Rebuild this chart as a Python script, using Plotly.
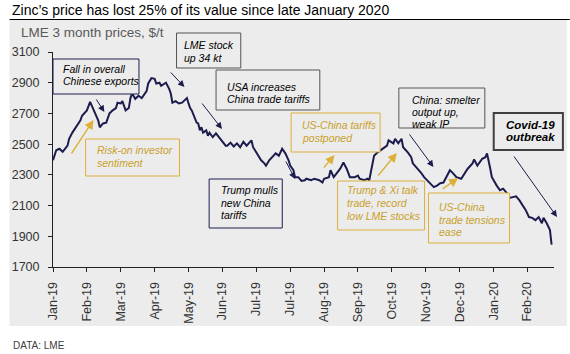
import plotly.graph_objects as go

# ---- data (trading-day index from 2 Jan 2019, LME 3M zinc, $/t) ----
days = [0, 2, 4, 6, 9, 10, 12, 15, 17, 18, 21, 23, 26, 28, 29, 31, 33, 35, 37, 39,
        40, 42, 43, 45, 47, 48, 49, 51, 53, 55, 58, 59, 61, 63, 64, 66, 67, 70, 72, 73,
        74, 76, 78, 80, 81, 83, 84, 85, 86, 88, 89, 90, 91, 92, 93, 95, 96, 97, 99, 101,
        103, 105, 107, 108, 110, 112, 114, 116, 118, 120, 122, 123, 124, 126, 127, 129, 131, 132, 134, 136,
        138, 140, 142, 144, 146, 147, 149, 150, 152, 154, 156, 157, 160, 162, 165, 167, 168, 171, 172, 174,
        176, 178, 180, 181, 182, 184, 187, 189, 190, 193, 195, 196, 197, 199, 201, 203, 205, 207, 208, 211,
        212, 214, 216, 217, 220, 222, 223, 226, 228, 230, 232, 234, 236, 238, 240, 242, 244, 246, 248, 250,
        253, 255, 257, 260, 261, 263, 265, 266, 268, 269, 271, 272, 275, 277, 279, 281, 283, 285, 287, 289,
        291, 293, 295, 297, 299, 301, 303, 304, 306, 308, 309]
price = [2395, 2460, 2470, 2450, 2490, 2535, 2575, 2620, 2655, 2685, 2720, 2775, 2700, 2655, 2610, 2635, 2640, 2700, 2720, 2735,
         2770, 2765, 2780, 2720, 2735, 2800, 2830, 2795, 2815, 2800, 2845, 2895, 2930, 2925, 2895, 2900, 2880, 2900, 2860, 2830,
         2770, 2780, 2765, 2770, 2780, 2800, 2765, 2735, 2720, 2670, 2640, 2635, 2590, 2610, 2575, 2590, 2555, 2575, 2545, 2570,
         2545, 2515, 2490, 2490, 2510, 2485, 2505, 2480, 2515, 2490, 2510, 2525, 2480, 2445, 2425, 2395, 2375, 2360, 2395, 2415,
         2440, 2425, 2470, 2440, 2395, 2360, 2330, 2285, 2285, 2260, 2265, 2275, 2265, 2275, 2265, 2250, 2275, 2285, 2330, 2285,
         2315, 2340, 2380, 2360, 2340, 2285, 2285, 2295, 2275, 2265, 2275, 2265, 2315, 2425, 2445, 2460, 2480, 2490, 2525, 2505,
         2535, 2505, 2535, 2480, 2445, 2415, 2375, 2340, 2315, 2285, 2265, 2245, 2220, 2230, 2245, 2250, 2295, 2330, 2310, 2285,
         2275, 2310, 2340, 2375, 2400, 2360, 2395, 2405, 2415, 2440, 2340, 2285, 2230, 2200, 2210, 2185, 2150, 2155, 2160, 2135,
         2100, 2070, 2025, 2020, 2005, 2025, 1985, 2020, 1985, 1940, 1845]
tick_days = [0, 21, 42, 63, 84, 105, 126, 147, 168, 189, 210, 231, 252, 273, 294]
tick_labels = ["Jan-19", "Feb-19", "Mar-19", "Apr-19", "May-19", "Jun-19", "Jul-19", "Jul-19",
               "Aug-19", "Sep-19", "Oct-19", "Nov-19", "Dec-19", "Jan-20", "Feb-20"]
y_ticks = [1700, 1900, 2100, 2300, 2500, 2700, 2900, 3100]

# ---- styling ----
W, H = 570, 354
L, R, T, B = 47, 16, 52, 87
PW, PH = W - L - R, H - T - B
NAVY = "#1c1c4e"
GOLD_TXT = "#c9a02a"
GOLD_BOR = "#dcb03a"
GREYB = "#555555"
PANEL = "#ececec"
FONT = "Liberation Sans, Arial, sans-serif"
BOX_FS = 10.5


def px(x):
    return (x - L) / PW


def py(y):
    return (H - B - y) / PH


fig = go.Figure()
fig.add_trace(go.Scatter(x=days, y=price, mode="lines",
                         line=dict(color=NAVY, width=2), hoverinfo="skip"))

fig.update_layout(
    width=W, height=H, margin=dict(l=L, r=R, t=T, b=B, pad=0),
    paper_bgcolor="white", plot_bgcolor="rgba(0,0,0,0)",
    showlegend=False, font=dict(family=FONT, color="#333333"),
)
fig.update_xaxes(range=[0, 310.5], tickvals=tick_days, ticktext=tick_labels, tickangle=-90,
                 showgrid=False, zeroline=False, showline=True, linecolor="#222222", linewidth=1,
                 ticks="outside", ticklen=4, tickcolor="#222222", ticklabelstandoff=5,
                 tickfont=dict(size=12.5, color="#333333", family=FONT))
fig.update_yaxes(range=[1700, 3100], tickvals=y_ticks, showgrid=False, zeroline=False,
                 showline=True, linecolor="#222222", linewidth=1,
                 ticks="outside", ticklen=4, tickcolor="#222222", ticklabelstandoff=6,
                 tickfont=dict(size=12.5, color="#333333", family=FONT))

# panel background and title rule
fig.add_shape(type="rect", xref="paper", yref="paper", x0=px(3), x1=px(567), y0=py(326), y1=py(20),
              fillcolor=PANEL, line=dict(width=0), layer="below")
fig.add_shape(type="line", xref="paper", yref="paper", x0=px(3), x1=px(570), y0=py(19.5), y1=py(19.5),
              line=dict(color="black", width=1))

fig.add_annotation(xref="paper", yref="paper", x=px(3), y=py(10), xanchor="left", yanchor="middle",
                   text="Zinc’s price has lost 25% of its value since late January 2020", showarrow=False,
                   font=dict(size=14, color="black", family=FONT))
fig.add_annotation(xref="paper", yref="paper", x=px(13), y=py(33), xanchor="left", yanchor="middle",
                   text="LME 3 month prices, $/t", showarrow=False,
                   font=dict(size=13.5, color="#595959", family=FONT))
fig.add_annotation(xref="paper", yref="paper", x=px(4), y=py(345), xanchor="left", yanchor="middle",
                   text="DATA: LME", showarrow=False, font=dict(size=10, color="#404040", family=FONT))


def box(x0, y0, x1, y1, lines, tx, ty, step, fc, bc, bw=1, size=BOX_FS, bold=False):
    fig.add_shape(type="rect", xref="paper", yref="paper", x0=px(x0), x1=px(x1), y0=py(y1), y1=py(y0),
                  fillcolor=PANEL, line=dict(color=bc, width=bw), layer="above")
    for i, s in enumerate(lines):
        t = "<i>" + s + "</i>"
        if bold:
            t = "<b>" + t + "</b>"
        fig.add_annotation(xref="paper", yref="paper", x=px(tx), y=py(ty + i * step),
                           xanchor="left", yanchor="middle", text=t, showarrow=False,
                           font=dict(size=size, color=fc, family=FONT))


def arrow(x0, y0, x1, y1, color, w=1):
    fig.add_annotation(xref="paper", yref="paper", x=px(x1), y=py(y1), ax=x0 - x1, ay=y0 - y1,
                       axref="pixel", ayref="pixel", text="", showarrow=True, arrowhead=2,
                       arrowsize=1.3, arrowwidth=w, arrowcolor=color, standoff=0, startstandoff=0)


box(47, 59, 134, 94, ["Fall in overall", "Chinese exports"], 55, 68.5, 12, "black", NAVY)
box(172, 33, 237, 68, ["LME stock", "up 34 kt"], 178, 45, 13, "black", GREYB)
box(212, 70, 317, 110, ["USA increases", "China trade tariffs"], 221, 86.5, 12.5, "black", GREYB)
box(80, 139, 175, 176, ["Risk-on investor", "sentiment"], 90, 150, 12.5, GOLD_TXT, GOLD_BOR)
box(205, 179, 279, 228, ["Trump mulls", "new China", "tariffs"], 215, 190, 12.5, "black", NAVY)
box(288, 113, 378, 152, ["US-China tariffs", "postponed"], 297, 125, 12.5, GOLD_TXT, GOLD_BOR)
box(335, 181, 423, 230, ["Trump &amp; Xi talk", "trade, record", "low LME stocks"], 343, 190, 13,
    GOLD_TXT, GOLD_BOR)
box(397, 88, 484, 128, ["China: smelter", "output up,", "weak IP"], 408, 100, 12, "black", GREYB)
box(427, 193, 509, 243, ["US-China", "trade tensions", "ease"], 436, 207, 12.5, GOLD_TXT, GOLD_BOR)
box(493, 113, 563, 150, ["Covid-19", "outbreak"], 503, 125, 11.5, "black", "#404040", bw=2,
    size=11.5, bold=True)

arrow(90, 98, 99, 112, NAVY)
arrow(165, 71, 180, 87, NAVY)
arrow(197, 102, 218, 129, NAVY)
arrow(65, 155, 88, 120, GOLD_BOR, 1.4)
arrow(282, 160, 292, 179, NAVY)
arrow(320, 169, 332, 155, GOLD_BOR, 1.4)
arrow(375, 177, 395, 153, GOLD_BOR, 1.4)
arrow(407, 133, 432, 167, NAVY)
arrow(440, 190, 457, 178, GOLD_BOR, 1.4)
arrow(513, 155, 557, 217, NAVY)

fig.write_html("out.html")
